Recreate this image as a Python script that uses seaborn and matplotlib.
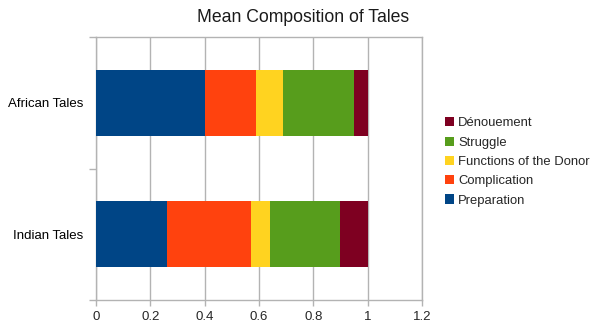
import numpy as np
import pandas as pd
import matplotlib
matplotlib.use("Agg")
import matplotlib.pyplot as plt
import seaborn as sns

# category labels (top to bottom) and mean share of each part
tales = ["African Tales", "Indian Tales"]
preparation = [0.40, 0.26]
complication = [0.19, 0.31]
donor = [0.10, 0.07]
struggle = [0.26, 0.26]
denouement = [0.05, 0.10]

parts = ["Preparation", "Complication", "Functions of the Donor", "Struggle", "Dénouement"]
colors = ["#004586", "#ff420e", "#ffd320", "#579d1c", "#7e0021"]

sns.set_theme(style="white")
plt.rcParams["font.family"] = ["Liberation Sans", "DejaVu Sans"]

df = pd.DataFrame({"tale": tales, "Preparation": preparation,
                   "Complication": complication, "Functions of the Donor": donor,
                   "Struggle": struggle, "Dénouement": denouement})
cum = df[parts].cumsum(axis=1)
cum["tale"] = df["tale"]

fig = plt.figure(figsize=(5.9, 3.26), dpi=100)
ax = fig.add_axes([96 / 590, 26 / 326, 326 / 590, 263 / 326])

# stacked bars: draw cumulative totals from the outermost segment inwards
for part, col in reversed(list(zip(parts, colors))):
    sns.barplot(data=cum, x=part, y="tale", orient="h", color=col, width=0.5,
                saturation=1, label=part, ax=ax, linewidth=0, zorder=3)

grid = "#b3b3b3"
ax.set_xlim(0, 1.2)
ax.set_ylim(1.5, -0.5)
ax.set_xticks(np.arange(0, 1.21, 0.2))
ax.set_xticklabels(["0", "0.2", "0.4", "0.6", "0.8", "1", "1.2"])
ax.xaxis.grid(True, color=grid, linewidth=1, zorder=0)
ax.set_axisbelow(True)
ax.set_yticks([-0.5, 0.5, 1.5], minor=True)
ax.tick_params(axis="y", which="major", length=0, labelsize=9.5, pad=9, colors="#000000")
ax.tick_params(axis="y", which="minor", length=5, color=grid, width=1, left=True)
ax.tick_params(axis="x", length=4, color=grid, width=1, bottom=True, labelsize=9.5, pad=4)
for s in ax.spines.values():
    s.set_color(grid)
    s.set_linewidth(1)
ax.set_xlabel("")
ax.set_ylabel("")

fig.text(303.5 / 590, 1 - 17 / 326, "Mean Composition of Tales", fontsize=12.7,
         color="#1a1a1a", ha="center", va="center")

ax.legend(loc="center left", bbox_to_anchor=(1.055, 0.525), frameon=False,
          fontsize=9.4, handlelength=0.7, handleheight=0.7, handletextpad=0.3,
          labelspacing=0.55, borderaxespad=0)

fig.savefig("out.png", dpi=100)
